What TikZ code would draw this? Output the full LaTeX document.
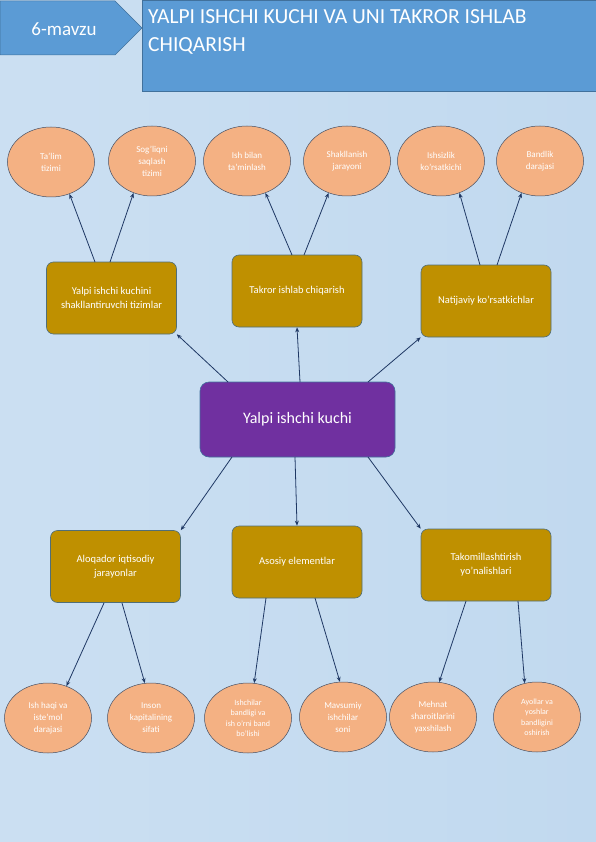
\documentclass[tikz,border=0pt]{standalone}
\usepackage{fontspec}
\setmainfont{Carlito}
\usetikzlibrary{arrows.meta,shapes.geometric}
\definecolor{bgblue}{RGB}{193,217,239}
\definecolor{bglight}{RGB}{203,223,242}
\definecolor{hdrblue}{RGB}{91,155,213}
\definecolor{hdrline}{RGB}{65,113,156}
\definecolor{gold}{RGB}{191,144,0}
\definecolor{goldline}{RGB}{80,110,120}
\definecolor{purp}{RGB}{112,48,160}
\definecolor{peach}{RGB}{244,177,131}
\definecolor{peachline}{RGB}{70,80,100}
\definecolor{arrowc}{RGB}{31,56,100}
\tikzset{
  goldbox/.style={draw=goldline, line width=0.6pt, fill=gold, rounded corners=7pt,
    minimum width=130pt, minimum height=72pt, text=white, font=\fontsize{10.5}{14}\selectfont,
    align=center, inner sep=2pt},
  oval/.style={ellipse, draw=peachline, line width=0.5pt, fill=peach,
    minimum width=87pt, minimum height=70pt, text=white, font=\fontsize{9}{12}\selectfont,
    align=center, inner sep=0pt},
  link/.style={draw=arrowc, line width=0.8pt, -{Stealth[length=5pt,width=4pt]}}
}
\begin{document}
\begin{tikzpicture}[x=1pt,y=-1pt]
\useasboundingbox (0,0) rectangle (596,842);
\shade[left color=bglight, right color=bgblue] (0,0) rectangle (596,842);
% header
\draw[draw=hdrline, line width=0.5pt, fill=hdrblue] (0,1) -- (115,1) -- (142,28) -- (115,55) -- (0,55) -- cycle;
\node[text=white, font=\fontsize{19}{21}\selectfont] (topic) at (64,29) {6-mavzu};
\node[draw=hdrline, line width=0.5pt, fill=hdrblue, minimum width=454pt, minimum height=91pt,
  anchor=north west, inner sep=0pt] (titlebox) at (142,0) {};
\node[text=white, anchor=north west, align=left, font=\fontsize{21.5}{28}\selectfont, inner sep=0pt]
  (title) at (148,9) {YALPI ISHCHI KUCHI VA UNI TAKROR ISHLAB\\CHIQARISH};
% center
\node[draw=hdrline, line width=0.6pt, fill=purp, rounded corners=9pt, minimum width=195pt,
  minimum height=75pt, text=white, font=\fontsize{16}{18}\selectfont] (c) at (297.5,419.5) {Yalpi ishchi kuchi};
% boxes
\node[goldbox] (b1) at (111.5,298) {Yalpi ishchi kuchini\\shakllantiruvchi tizimlar};
\node[goldbox] (b2) at (297,291) {Takror ishlab chiqarish};
\node[goldbox] (b3) at (486,301) {Natijaviy ko'rsatkichlar};
\node[goldbox] (b4) at (115.5,566.5) {Aloqador iqtisodiy\\jarayonlar};
\node[goldbox] (b5) at (297,562) {Asosiy elementlar};
\node[goldbox] (b6) at (486,565) {Takomillashtirish\\yo'nalishlari};
% top ellipses
\node[oval] (e1) at (51,162) {Ta'lim\\tizimi};
\node[oval] (e2) at (152,161) {Sog'liqni\\saqlash\\tizimi};
\node[oval] (e3) at (247,161) {Ish bilan\\ta'minlash};
\node[oval] (e4) at (347,161) {Shakllanish\\jarayoni};
\node[oval] (e5) at (441,161) {Ishsizlik\\ko'rsatkichi};
\node[oval] (e6) at (540,161) {Bandlik\\darajasi};
% bottom ellipses
\node[oval] (f1) at (48,718) {Ish haqi va\\iste'mol\\darajasi};
\node[oval] (f2) at (151,718) {Inson\\kapitalining\\sifati};
\node[oval, font=\fontsize{8}{10.5}\selectfont] (f3) at (248,718) {Ishchilar\\bandligi va\\ish o'rni band\\bo'lishi};
\node[oval] (f4) at (343,717) {Mavsumiy\\ishchilar\\soni};
\node[oval] (f5) at (433,717) {Mehnat\\sharoitlarini\\yaxshilash};
\node[oval, font=\fontsize{8}{10.5}\selectfont] (f6) at (537,717) {Ayollar va\\yoshlar\\bandligini\\oshirish};
% coordinates for connectors
\coordinate (c1) at (228,382);
\coordinate (c2) at (300,382);
\coordinate (c3) at (368,382);
\coordinate (c4) at (232,457);
\coordinate (c5) at (295,457);
\coordinate (c6) at (368,457);
\draw[link] (c1) -- (b1.south east);
\draw[link] (c2) -- (b2.south);
\draw[link] (c3) -- (b3.south west);
\draw[link] (c4) -- (b4.north east);
\draw[link] (c5) -- (b5.north);
\draw[link] (c6) -- (b6.north west);
% box to ellipses
\coordinate (t1a) at (95,262); \coordinate (t1b) at (110,262);
\coordinate (t2a) at (292,255); \coordinate (t2b) at (304,255);
\coordinate (t3a) at (480,265); \coordinate (t3b) at (497,265);
\coordinate (u4a) at (104,603); \coordinate (u4b) at (122,603);
\coordinate (u5a) at (266,598); \coordinate (u5b) at (315,598);
\coordinate (u6a) at (466,601); \coordinate (u6b) at (518,601);
\draw[link] (t1a) -- (e1.-60);
\draw[link] (t1b) -- (e2.-120);
\draw[link] (t2a) -- (e3.-60);
\draw[link] (t2b) -- (e4.-120);
\draw[link] (t3a) -- (e5.-60);
\draw[link] (t3b) -- (e6.-120);
\draw[link] (u4a) -- (f1.60);
\draw[link] (u4b) -- (f2.100);
\draw[link] (u5a) -- (f3.80);
\draw[link] (u5b) -- (f4.95);
\draw[link] (u6a) -- (f5.80);
\draw[link] (u6b) -- (f6.110);
\end{tikzpicture}
\end{document}
